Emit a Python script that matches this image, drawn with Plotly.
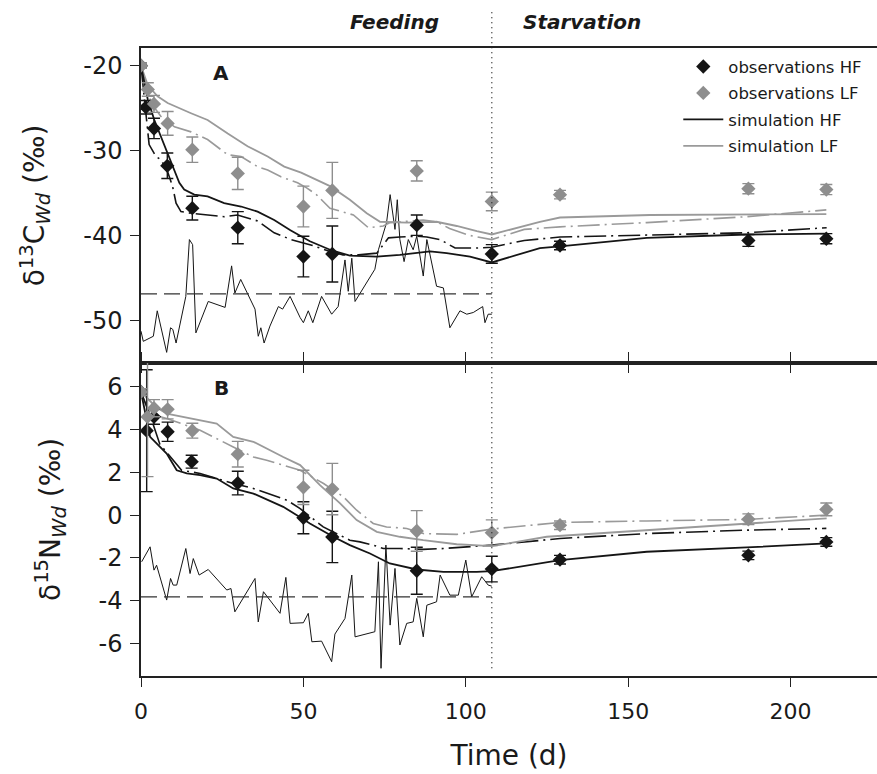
import plotly.graph_objects as go

# ---------------- data: panel A (delta13C) ----------------
obsA_HF_t = [0, 1.5, 4, 8.1, 15.8, 29.8, 50, 58.9, 84.9, 108, 129, 187, 211]
obsA_HF = [-20, -24.9, -27.4, -31.8, -36.8, -39.1, -42.5, -42.2, -38.8, -42.2, -41.2, -40.6, -40.4]
obsA_HF_err = [0.3, 0.8, 1.2, 1.5, 1.4, 1.9, 2.4, 3.3, 1.2, 1.1, 0.5, 0.7, 0.6]
obsA_LF_t = [0, 2.1, 4, 8.2, 15.8, 29.8, 50, 58.9, 84.9, 108, 129, 187, 211]
obsA_LF = [-20, -22.8, -24.5, -26.8, -29.9, -32.7, -36.6, -34.7, -32.4, -36.0, -35.2, -34.5, -34.6]
obsA_LF_err = [0.3, 0.8, 1.0, 1.4, 1.5, 1.9, 2.4, 3.3, 1.2, 1.1, 0.5, 0.6, 0.6]

simA_HF_t = [0, 2.1, 4.1, 6.2, 8.2, 10.3, 11.8, 13.3, 16.4, 20.5, 25.6, 30.8, 35.9, 41.0, 46.0, 52.0,
             58.2, 64.3, 72.6, 79.7, 89.0, 94.1, 101.3, 108.0, 122.8, 129, 155.7, 186.5, 211.1]
simA_HF = [-20, -24.0, -26.4, -28.4, -30.3, -32.3, -33.8, -34.6, -35.2, -35.4, -36.2, -36.6, -37.2, -38.2,
           -39.4, -40.7, -41.7, -42.4, -42.5, -42.3, -41.9, -42.1, -42.5, -43.2, -41.5, -41.3, -40.3, -39.9, -39.8]
simA_HF2_t = [0, 1.5, 2.5, 4.6, 6.2, 8.2, 9.7, 10.8, 12.3, 15.4, 20.5, 25.6, 29.7, 35.9, 41.0, 46.2, 52.0,
              58.2, 62.2, 67, 72.6, 76.2, 79.7, 84.9, 88, 92.1, 96.7, 103.4, 108, 118, 129, 155.7, 186.5, 211.1]
simA_HF2 = [-20, -25.5, -29.3, -30.7, -31.1, -32.5, -34.2, -36.2, -37.2, -37.4, -37.6, -37.8, -37.6, -38.3,
            -39.7, -40.5, -41.1, -41.9, -42.3, -42.3, -42.1, -40.3, -40.2, -40.1, -40.2, -40.5, -41.5, -41.5,
            -41.4, -40.6, -40.2, -40.0, -39.7, -39.1]
simA_LF_t = [0, 2.1, 5.1, 8.2, 15.4, 20.5, 26.7, 32.8, 39.0, 44.1, 49.3, 52.0, 58.2, 64.3, 69.5, 73.6,
             81.8, 91.0, 97.2, 103.4, 108.0, 122.8, 129, 156.7, 186.5, 211]
simA_LF = [-20, -22.3, -23.6, -24.4, -25.6, -26.4, -28.0, -29.5, -30.7, -31.9, -32.6, -33.1, -34.2, -35.8,
           -37.4, -38.4, -38.5, -38.4, -38.9, -39.5, -39.9, -38.4, -37.9, -37.6, -37.5, -37.5]
simA_LF2_t = [0, 3.1, 6.2, 10.3, 15.4, 20.5, 26.7, 30.8, 35.9, 39, 43.1, 48.2, 51, 54, 58.2, 65.4, 70,
              74.6, 76.7, 86.9, 91, 95, 101, 108, 118, 129, 155.7, 186.5, 211]
simA_LF2 = [-20, -24.4, -26.0, -27.2, -27.8, -28.7, -30.5, -30.7, -31.9, -32.3, -33.1, -33.8, -34.4, -35.2,
            -36.8, -37.6, -39.1, -38.9, -38.5, -38.2, -38.4, -39.2, -40.0, -40.5, -39.3, -39.0, -38.5, -37.8, -37.0]

dietA_t = [0, 0.7, 3.8, 5.0, 7.9, 9.1, 9.8, 10.8, 13.8, 14.9, 15.9, 16.9, 20.7, 25.9, 27.9, 28.9, 30.7,
           35.1, 36.1, 36.9, 37.9, 39.7, 42.3, 43.6, 45.9, 49.0, 50.0, 51.5, 52.9, 55.6, 58.7, 60.7, 62.8,
           63.8, 64.9, 65.9, 72.0, 73.1, 75.6, 76.7, 78.2, 78.9, 79.7, 81.0, 82.3, 83.8, 84.9, 86.9, 88.0,
           91.0, 93.1, 95.1, 98.2, 100.3, 102.3, 105.2, 105.9, 106.9, 108.0]
dietA = [-51.3, -52.5, -51.9, -48.9, -53.8, -50.9, -51.1, -52.7, -47.2, -40.5, -41.1, -51.5, -47.8, -48.5,
         -43.6, -46.8, -45.2, -48.7, -51.9, -50.9, -52.7, -50.7, -48.4, -48.7, -47.2, -49.7, -50.3, -48.9,
         -50.3, -47.2, -49.3, -48.4, -42.9, -46.6, -42.7, -47.8, -44.0, -41.7, -38.5, -35.2, -39.3, -35.8,
         -40.5, -43.1, -40.5, -41.7, -40.1, -44.8, -40.5, -46.0, -46.2, -50.9, -48.9, -49.3, -49.1, -48.4,
         -50.3, -49.3, -49.3]
dietA_mean_t = [0, 108]
dietA_mean = [-46.9, -46.9]

# ---------------- data: panel B (delta15N) ----------------
obsB_HF_t = [0, 1.75, 4, 8.2, 15.6, 29.8, 50, 58.9, 84.9, 108, 129, 187, 211]
obsB_HF = [5.76, 3.95, 4.6, 3.9, 2.5, 1.5, -0.12, -1.02, -2.6, -2.52, -2.08, -1.88, -1.25]
obsB_HF_err = [0.15, 2.85, 0.35, 0.45, 0.3, 0.55, 0.75, 1.2, 1.1, 0.6, 0.2, 0.2, 0.2]
obsB_LF_t = [0, 2, 4, 8.2, 15.8, 29.8, 50, 58.9, 84.9, 108, 129, 187, 211]
obsB_LF = [5.76, 4.6, 5.0, 4.95, 3.95, 2.85, 1.3, 1.22, -0.74, -0.82, -0.47, -0.19, 0.27]
obsB_LF_err = [0.15, 2.8, 0.4, 0.45, 0.35, 0.6, 0.8, 1.2, 0.95, 0.6, 0.2, 0.25, 0.3]

simB_HF_t = [0, 2.8, 7.9, 11.0, 14.1, 18.2, 23.3, 28.4, 34.6, 43.8, 49.0, 52.0, 59.2, 64.3, 70.5, 76.6,
             84.9, 93.1, 103.4, 108, 129, 155.7, 186.5, 211.1]
simB_HF = [5.76, 3.66, 2.88, 2.1, 1.95, 1.87, 1.71, 1.25, 1.01, 0.39, -0.1, -0.39, -1.01, -1.40, -1.79,
           -2.26, -2.54, -2.65, -2.65, -2.62, -2.10, -1.71, -1.51, -1.32]
simB_HF2_t = [0, 2.5, 5.8, 12.5, 18.2, 28.4, 34.6, 44.9, 49, 56.1, 64.3, 67.4, 71.5, 74.6, 79.7, 86.9,
              93.1, 101.3, 108, 129, 155.7, 186.5, 211]
simB_HF2 = [5.76, 4.8, 3.32, 2.1, 1.95, 1.48, 1.25, 0.70, 0.31, -0.55, -1.17, -1.25, -1.40, -1.56, -1.56,
            -1.60, -1.56, -1.48, -1.40, -1.09, -0.86, -0.70, -0.62]
simB_LF_t = [0, 4.6, 7.9, 18.2, 23.3, 28.4, 34.6, 43.8, 49, 55.1, 61.3, 66.4, 72.6, 79.7, 86.9, 97.2, 108,
             124.9, 155.7, 186.5, 211.1]
simB_LF = [5.76, 5.06, 4.75, 4.44, 4.28, 3.66, 3.43, 2.72, 2.34, 1.40, 0.55, -0.23, -0.78, -1.01, -1.17,
           -1.36, -1.45, -1.01, -0.70, -0.39, -0.15]
simB_LF2_t = [0, 2.5, 7.9, 18.2, 28.4, 34.6, 38.7, 49, 56.2, 62.3, 66.4, 71.5, 75.6, 81.8, 86.9, 97.2, 108,
              129, 155.7, 186.5, 211]
simB_LF2 = [5.76, 4.75, 4.52, 3.97, 3.19, 2.72, 2.57, 2.1, 1.48, 0.86, 0.23, -0.39, -0.55, -0.62, -0.86,
            -0.90, -0.65, -0.34, -0.27, -0.20, 0.0]

dietB_t = [0.2, 2.8, 4, 4.8, 7.9, 9.1, 9.9, 11, 13.8, 15.1, 16.1, 17.9, 20.7, 26.4, 27.7, 28.9, 35.1, 36.1,
           37.7, 42.8, 44.6, 45.9, 50, 51.5, 52.6, 55.6, 58.7, 59.7, 62.8, 64.9, 65.9, 72.0, 73.1, 73.9,
           75.4, 76.7, 78.2, 79.7, 81.8, 83.8, 84.9, 86.9, 88.0, 91.0, 92.1, 95.1, 97.7, 100, 101.8, 104.9,
           106.9, 108]
dietB = [-2.18, -1.48, -2.57, -2.34, -3.97, -2.96, -3.27, -3.27, -1.56, -2.73, -2.03, -2.80, -2.54, -3.5,
         -3.43, -4.52, -2.96, -4.99, -3.58, -4.59, -2.91, -5.06, -5.03, -4.59, -5.92, -5.89, -6.85, -5.56,
         -4.83, -2.80, -5.69, -5.45, -2.18, -7.16, -1.40, -5.14, -2.49, -6.07, -5.06, -4.99, -3.89, -5.69,
         -4.21, -4.05, -2.80, -3.74, -3.74, -2.10, -3.82, -2.88, -3.27, -3.32]
dietB_mean_t = [0, 108]
dietB_mean = [-3.82, -3.82]

# ticks
x_tickvals = [0, 50, 100, 150, 200]
x_ticktext = ["0", "50", "100", "150", "200"]
yA_tickvals = [-20, -30, -40, -50]
yA_ticktext = ["-20", "-30", "-40", "-50"]
yB_tickvals = [6, 4, 2, 0, -2, -4, -6]
yB_ticktext = ["6", "4", "2", "0", "-2", "-4", "-6"]
switch_day = 108

# ---------------- styles ----------------
BLACK = "#151515"
GRAY = "#8e8e8e"
GRAYLINE = "#9a9a9a"
FONT = "DejaVu Sans, Liberation Sans, sans-serif"
DASHDOT = "22px,5px,2px,5px"

fig = go.Figure()


def add_panel(xa, ya, diet_t, diet, mean_t, mean, hf_t, hf, hf2_t, hf2, lf_t, lf, lf2_t, lf2,
              ohf_t, ohf, ohf_e, olf_t, olf, olf_e, show):
    fig.add_trace(go.Scatter(x=diet_t, y=diet, mode="lines", xaxis=xa, yaxis=ya, showlegend=False,
                             line=dict(color=BLACK, width=1), hoverinfo="skip"))
    fig.add_trace(go.Scatter(x=mean_t, y=mean, mode="lines", xaxis=xa, yaxis=ya, showlegend=False,
                             line=dict(color="#333333", width=1.1, dash="16px,7px")))
    fig.add_trace(go.Scatter(x=lf2_t, y=lf2, mode="lines", xaxis=xa, yaxis=ya, showlegend=False,
                             line=dict(color=GRAYLINE, width=1.6, dash=DASHDOT)))
    fig.add_trace(go.Scatter(x=hf2_t, y=hf2, mode="lines", xaxis=xa, yaxis=ya, showlegend=False,
                             line=dict(color=BLACK, width=1.6, dash=DASHDOT)))
    fig.add_trace(go.Scatter(x=lf_t, y=lf, mode="lines", xaxis=xa, yaxis=ya, name="simulation LF",
                             legendgroup="g4", legendrank=4, showlegend=show,
                             line=dict(color=GRAYLINE, width=1.8)))
    fig.add_trace(go.Scatter(x=hf_t, y=hf, mode="lines", xaxis=xa, yaxis=ya, name="simulation HF",
                             legendgroup="g3", legendrank=3, showlegend=show,
                             line=dict(color=BLACK, width=1.8)))
    fig.add_trace(go.Scatter(x=ohf_t, y=ohf, mode="markers", xaxis=xa, yaxis=ya, name="observations HF",
                             legendgroup="g1", legendrank=1, showlegend=show,
                             marker=dict(symbol="diamond", size=11, color=BLACK),
                             error_y=dict(type="data", array=ohf_e, visible=True, color=BLACK,
                                          thickness=1.4, width=6)))
    fig.add_trace(go.Scatter(x=olf_t, y=olf, mode="markers", xaxis=xa, yaxis=ya, name="observations LF",
                             legendgroup="g2", legendrank=2, showlegend=show,
                             marker=dict(symbol="diamond", size=11, color=GRAY),
                             error_y=dict(type="data", array=olf_e, visible=True, color=GRAY,
                                          thickness=1.4, width=6)))


add_panel("x", "y", dietA_t, dietA, dietA_mean_t, dietA_mean, simA_HF_t, simA_HF, simA_HF2_t, simA_HF2,
          simA_LF_t, simA_LF, simA_LF2_t, simA_LF2, obsA_HF_t, obsA_HF, obsA_HF_err,
          obsA_LF_t, obsA_LF, obsA_LF_err, True)
add_panel("x2", "y2", dietB_t, dietB, dietB_mean_t, dietB_mean, simB_HF_t, simB_HF, simB_HF2_t, simB_HF2,
          simB_LF_t, simB_LF, simB_LF2_t, simB_LF2, obsB_HF_t, obsB_HF, obsB_HF_err,
          obsB_LF_t, obsB_LF, obsB_LF_err, False)

split = 0.4986
axis_common = dict(showgrid=False, zeroline=False, showline=True, linecolor="#222222", linewidth=1.5,
                   ticks="outside", tickcolor="#222222", tickwidth=1.3)

fig.update_layout(
    width=877, height=774,
    margin=dict(l=141, r=0, t=48, b=98),
    paper_bgcolor="white", plot_bgcolor="white",
    font=dict(family=FONT, color="#1a1a1a"),
    xaxis=dict(axis_common, domain=[0, 1], anchor="y", range=[0, 226.6], tickvals=x_tickvals,
               showticklabels=False, ticklen=8, mirror=True),
    yaxis=dict(axis_common, domain=[split, 1], anchor="x", range=[-55.04, -17.91],
               tickvals=yA_tickvals, ticktext=yA_ticktext, ticklen=9, ticklabelstandoff=3,
               tickfont=dict(size=24, family=FONT),
               title=dict(text="δ<sup>13</sup>C<sub><i>Wd</i></sub> (‰)", font=dict(size=28, family=FONT),
                          standoff=30)),
    xaxis2=dict(axis_common, domain=[0, 1], anchor="y2", range=[0, 226.6], tickvals=x_tickvals,
                ticktext=x_ticktext, ticklen=9, mirror="ticks", matches="x", ticklabelstandoff=6,
                tickfont=dict(size=22, family=FONT),
                title=dict(text="Time (d)", font=dict(size=28, family=FONT), standoff=22)),
    yaxis2=dict(axis_common, domain=[0, split], anchor="x2", range=[-7.52, 7.12],
                tickvals=yB_tickvals, ticktext=yB_ticktext, ticklen=9, ticklabelstandoff=3,
                tickfont=dict(size=24, family=FONT),
                title=dict(text="δ<sup>15</sup>N<sub><i>Wd</i></sub> (‰)", font=dict(size=28, family=FONT),
                           standoff=30)),
    legend=dict(x=0.730, y=0.998, xanchor="left", yanchor="top", bgcolor="rgba(0,0,0,0)",
                font=dict(size=16.5, family=FONT, color="#1a1a1a"), traceorder="grouped",
                tracegroupgap=2, itemwidth=40),
    showlegend=True,
)

fig.add_shape(type="line", xref="x", yref="paper", x0=switch_day, x1=switch_day, y0=0.0123, y1=1.0605,
              line=dict(color="#222222", width=1.3, dash="1px,4px"))

fig.add_annotation(x=78.2, y=1.0414, xref="x", yref="paper", yanchor="middle", text="<b><i>Feeding</i></b>",
                   showarrow=False, font=dict(size=20, family=FONT, color="#1a1a1a"))
fig.add_annotation(x=135.8, y=1.0414, xref="x", yref="paper", yanchor="middle",
                   text="<b><i>Starvation</i></b>", showarrow=False,
                   font=dict(size=20, family=FONT, color="#1a1a1a"))
fig.add_annotation(x=24.6, y=-20.86, xref="x", yref="y", text="<b>A</b>", showarrow=False,
                   font=dict(size=20, family=FONT, color="#1a1a1a"))
fig.add_annotation(x=24.8, y=5.96, xref="x2", yref="y2", text="<b>B</b>", showarrow=False,
                   font=dict(size=20, family=FONT, color="#1a1a1a"))

fig.write_html("out.html")
